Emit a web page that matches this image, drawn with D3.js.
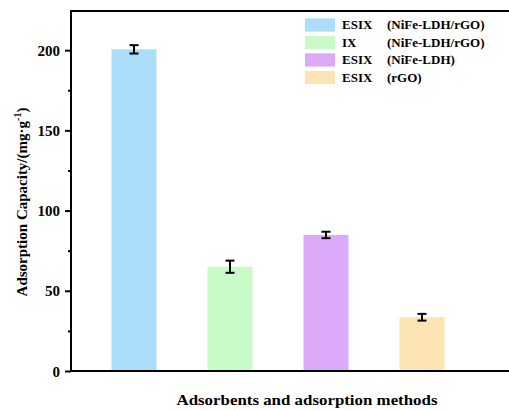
<!DOCTYPE html>
<html><head><meta charset="utf-8">
<script src="https://cdn.jsdelivr.net/npm/d3@7"></script>
<style>body{margin:0;background:#fff}svg{display:block}</style>
</head><body><svg id="c" width="509" height="410" font-family="Liberation Serif" font-weight="bold"></svg>
<script>
const categories = ["ESIX (NiFe-LDH/rGO)", "IX (NiFe-LDH/rGO)", "ESIX (NiFe-LDH)", "ESIX (rGO)"];
const legendA = ["ESIX", "IX", "ESIX", "ESIX"];
const legendB = ["(NiFe-LDH/rGO)", "(NiFe-LDH/rGO)", "(NiFe-LDH)", "(rGO)"];
const values = [200.5, 65, 84.8, 33.5];
const errors = [2.6, 3.8, 2.0, 2.1];
const colors = ["#acdefb", "#c8fbc8", "#dcaaf8", "#fde4b4"];
const yTicks = [0, 50, 100, 150, 200];
const yMinor = [25, 75, 125, 175];

const FONT = "'Liberation Serif', 'Times New Roman', serif";
const svg = d3.select("#c");
const L = 71, R = 509, T = 11, B = 371;
const y = d3.scaleLinear().domain([0, 224.4]).range([B, T]);
const x = d3.scalePoint().domain(categories).range([86, 470]).padding(0.5);
const bw = 45;

// bars
svg.append("g").selectAll("rect").data(categories).join("rect")
  .attr("x", d => x(d) - bw / 2).attr("width", bw)
  .attr("y", (d, i) => y(values[i])).attr("height", (d, i) => B - y(values[i]))
  .attr("fill", (d, i) => colors[i]);

// error bars
const eg = svg.append("g").attr("stroke", "#000").attr("stroke-width", 2);
categories.forEach((c, i) => {
  const cx = x(c), y1 = y(values[i] + errors[i]), y0 = y(values[i] - errors[i]);
  eg.append("line").attr("x1", cx).attr("x2", cx).attr("y1", y1).attr("y2", y0);
  eg.append("line").attr("x1", cx - 4.5).attr("x2", cx + 4.5).attr("y1", y1).attr("y2", y1);
  eg.append("line").attr("x1", cx - 4.5).attr("x2", cx + 4.5).attr("y1", y0).attr("y2", y0);
});

// y axis
const ya = svg.append("g").attr("transform", `translate(${L},0)`)
  .call(d3.axisLeft(y).tickValues(yTicks).tickSize(6).tickPadding(5).tickFormat(d3.format("d")));
ya.attr("font-family", null).attr("font-size", null);
ya.select(".domain").remove();
ya.selectAll(".tick line").attr("stroke-width", 2);
ya.selectAll(".tick text").style("font-size", "15px").style("font-family", FONT).style("font-weight", "bold").attr("dy", "0.34em");
const ym = svg.append("g").attr("transform", `translate(${L},0)`)
  .call(d3.axisLeft(y).tickValues(yMinor).tickSize(3).tickFormat(""));
ym.select(".domain").remove();
ym.selectAll(".tick line").attr("stroke-width", 2);

// frame
svg.append("line").attr("x1", L).attr("x2", L).attr("y1", T - 1).attr("y2", B + 1).attr("stroke", "#000").attr("stroke-width", 2);
svg.append("line").attr("x1", L - 1).attr("x2", R).attr("y1", B).attr("y2", B).attr("stroke", "#000").attr("stroke-width", 2);
svg.append("line").attr("x1", L - 1).attr("x2", R).attr("y1", T).attr("y2", T).attr("stroke", "#000").attr("stroke-width", 2);

// titles
svg.append("text").attr("x", 307).attr("y", 405).attr("text-anchor", "middle")
  .style("font-family", FONT).style("font-weight", "bold").style("font-size", "15px")
  .attr("textLength", 261).attr("lengthAdjust", "spacingAndGlyphs")
  .text("Adsorbents and adsorption methods");
const yt = svg.append("text").attr("transform", "translate(27,202) rotate(-90)").attr("text-anchor", "middle")
  .style("font-family", FONT).style("font-weight", "bold").style("font-size", "15px");
yt.append("tspan").text("Adsorption Capacity/(mg·g");
yt.append("tspan").attr("dy", -6).style("font-size", "10px").text("-1");
yt.append("tspan").attr("dy", 6).text(")");

// legend
const lg = svg.append("g").style("font-family", FONT).style("font-weight", "bold").style("font-size", "13px");
categories.forEach((c, i) => {
  const yy = 18.3 + i * 17.5;
  lg.append("rect").attr("x", 305).attr("y", yy).attr("width", 30).attr("height", 13.3).attr("fill", colors[i]);
  lg.append("text").attr("x", 342).attr("y", yy + 11).text(legendA[i]);
  lg.append("text").attr("x", 387).attr("y", yy + 11).text(legendB[i]);
});
</script></body></html>
